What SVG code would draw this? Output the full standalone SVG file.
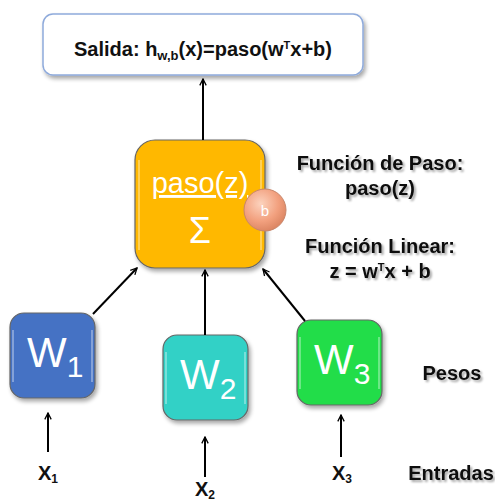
<svg xmlns="http://www.w3.org/2000/svg" width="495" height="502" viewBox="0 0 495 502">
<defs>
<marker id="ah" viewBox="0 0 10 10" refX="9" refY="5" markerWidth="8" markerHeight="8" orient="auto-start-reverse" markerUnits="userSpaceOnUse">
<path d="M1,1 L9,5 L1,9" fill="none" stroke="#000" stroke-width="1.6"/>
</marker>
<filter id="sh" x="-20%" y="-20%" width="150%" height="150%">
<feGaussianBlur in="SourceAlpha" stdDeviation="2"/>
<feOffset dx="2" dy="3"/>
<feComponentTransfer><feFuncA type="linear" slope="0.35"/></feComponentTransfer>
<feMerge><feMergeNode/><feMergeNode in="SourceGraphic"/></feMerge>
</filter>
<filter id="tsh" x="-10%" y="-30%" width="130%" height="160%">
<feGaussianBlur in="SourceAlpha" stdDeviation="1.2"/>
<feOffset dx="2" dy="2"/>
<feComponentTransfer><feFuncA type="linear" slope="0.35"/></feComponentTransfer>
<feMerge><feMergeNode/><feMergeNode in="SourceGraphic"/></feMerge>
</filter>
<radialGradient id="bg" cx="0.4" cy="0.35" r="0.7">
<stop offset="0" stop-color="#FCD3BE"/>
<stop offset="0.6" stop-color="#F2A07E"/>
<stop offset="1" stop-color="#D9825F"/>
</radialGradient>
</defs>
<style>
.node{stroke:#666;stroke-width:1.2}
.lbl{font-family:"Liberation Sans",Arial,sans-serif;font-weight:bold;fill:#111;text-anchor:middle}
.w{font-family:"Liberation Sans",Arial,sans-serif;fill:#fff}
.hl{fill:none;stroke:#fff;stroke-opacity:0.45;stroke-width:1.5}
.conn line{stroke:#000;stroke-width:2}
</style>

<g id="salida">
<rect x="43" y="14" width="320" height="61" rx="10" fill="#fff" stroke="#8EAADB" stroke-width="1.5" filter="url(#sh)"/>
<text class="lbl" x="203" y="56" font-size="20">Salida: h<tspan font-size="13" dy="4">w,b</tspan><tspan dy="-4">(x)=paso(w</tspan><tspan font-size="11" dy="-7">T</tspan><tspan dy="7">x+b)</tspan></text>
</g>

<g id="paso">
<rect x="135" y="140" width="130" height="128" rx="20" fill="#FFB800" class="node" filter="url(#sh)"/>
<path class="hl" d="M139,160 V250 M261,160 V250"/>
<text class="w" x="200" y="193" font-size="29" text-anchor="middle" text-decoration="underline">paso(z)</text>
<text class="w" x="200" y="243" font-size="36" text-anchor="middle">Σ</text>
</g>

<g id="bias">
<circle cx="265" cy="210" r="21" fill="url(#bg)" stroke="#C8866A" stroke-width="1"/>
<text class="w" x="265" y="216" font-size="15" text-anchor="middle">b</text>
</g>

<g id="w1">
<rect x="10" y="313" width="85" height="85" rx="14" fill="#4472C4" class="node" filter="url(#sh)"/>
<path class="hl" d="M13,330 V382 M92,330 V382"/>
<text class="w" x="27" y="367" font-size="42">W<tspan font-size="30" dy="10">1</tspan></text>
</g>

<g id="w2">
<rect x="163" y="335" width="85" height="85" rx="14" fill="#33D1C6" class="node" filter="url(#sh)"/>
<path class="hl" d="M166,352 V404 M245,352 V404"/>
<text class="w" x="180" y="389" font-size="42">W<tspan font-size="30" dy="10">2</tspan></text>
</g>

<g id="w3">
<rect x="297" y="320" width="85" height="85" rx="14" fill="#22DD4A" class="node" filter="url(#sh)"/>
<path class="hl" d="M300,337 V389 M379,337 V389"/>
<text class="w" x="314" y="374" font-size="42">W<tspan font-size="30" dy="10">3</tspan></text>
</g>

<g id="labels" filter="url(#tsh)">
<text class="lbl" x="380" y="170" font-size="20">Función de Paso:</text>
<text class="lbl" x="380" y="195" font-size="20">paso(z)</text>
<text class="lbl" x="380" y="253" font-size="20">Función Linear:</text>
<text class="lbl" x="380" y="278" font-size="20">z = w<tspan font-size="11" dy="-7">T</tspan><tspan dy="7">x + b</tspan></text>
<text class="lbl" x="452" y="380" font-size="20">Pesos</text>
<text class="lbl" x="451" y="480" font-size="20">Entradas</text>
</g>

<g id="x1"><text class="lbl" x="48" y="480" font-size="20">X<tspan font-size="12" dy="3">1</tspan></text></g>
<g id="x2"><text class="lbl" x="205" y="496" font-size="20">X<tspan font-size="12" dy="3">2</tspan></text></g>
<g id="x3"><text class="lbl" x="342" y="480" font-size="20">X<tspan font-size="12" dy="3">3</tspan></text></g>

<g id="connectors" class="conn">
<line x1="203" y1="140" x2="203" y2="79" marker-end="url(#ah)"/>
<line x1="93" y1="314" x2="137" y2="268" marker-end="url(#ah)"/>
<line x1="205" y1="335" x2="205" y2="270" marker-end="url(#ah)"/>
<line x1="305" y1="321" x2="263" y2="269" marker-end="url(#ah)"/>
<line x1="48" y1="452" x2="48" y2="413" marker-end="url(#ah)"/>
<line x1="205" y1="477" x2="205" y2="437" marker-end="url(#ah)"/>
<line x1="341" y1="457" x2="341" y2="415" marker-end="url(#ah)"/>
</g>
</svg>
